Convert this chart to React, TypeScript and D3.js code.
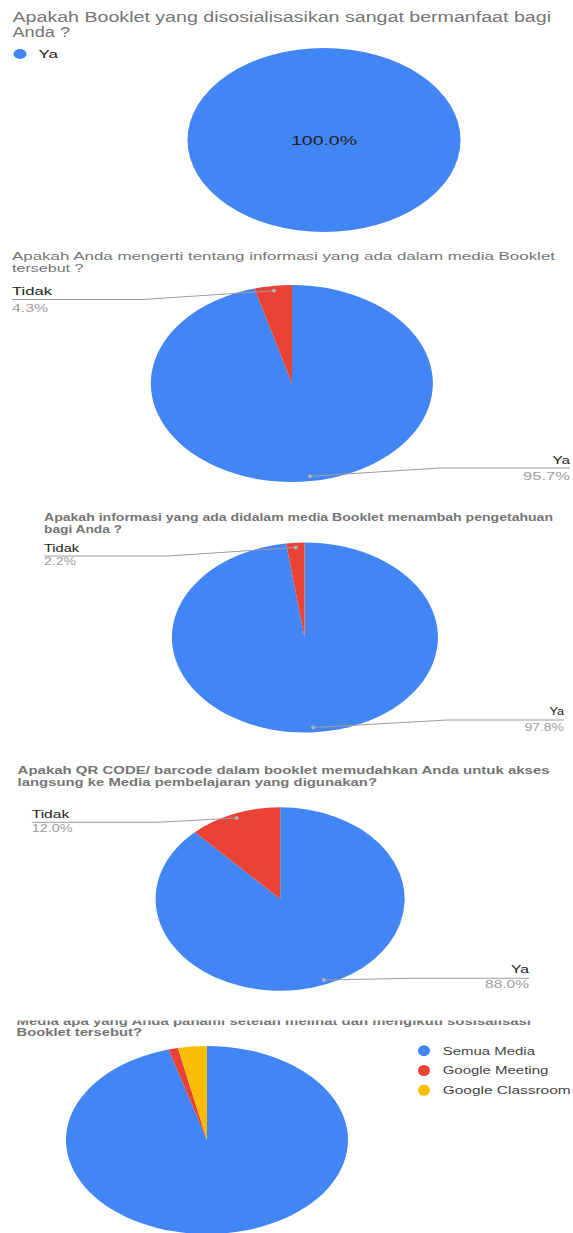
import * as d3 from "d3"

// survey answers
const q1Labels = ["Ya"]
const q1Values = [100]
const q1Title = ["Apakah Booklet yang disosialisasikan sangat bermanfaat bagi", "Anda ?"]

const q2Labels = ["Ya", "Tidak"]
const q2Values = [95.7, 4.3]
const q2Title = ["Apakah Anda mengerti tentang informasi yang ada dalam media Booklet", "tersebut ?"]

const q3Labels = ["Ya", "Tidak"]
const q3Values = [97.8, 2.2]
const q3Title = ["Apakah informasi yang ada didalam media Booklet menambah pengetahuan", "bagi Anda ?"]

const q4Labels = ["Ya", "Tidak"]
const q4Values = [88.0, 12.0]
const q4Title = [
  "Apakah QR CODE/ barcode dalam booklet memudahkan Anda untuk akses",
  "langsung ke Media pembelajaran yang digunakan?",
]

const q5Labels = ["Semua Media", "Google Meeting", "Google Classroom"]
const q5Values = [95.6, 1.1, 3.3]
const q5Title = [
  "Media apa yang Anda pahami setelah melihat dan mengikuti sosisalisasi",
  "Booklet tersebut?",
]

const colors = ["#4285f4", "#ea4335", "#fbbc04"]
const FONT = "'Liberation Sans', Arial, sans-serif"
const W = 573
const H = 1233

type LeaderLayout = { lineY: number; elbowX: number; endX: number; side: "left" | "right"; nameW: number; pctW: number; nameY: number; pctY: number }

type ChartLayout = {
  labels: string[]
  values: number[]
  title: string[]
  titleX: number
  titleY: number[]
  titleW: number[]
  titleSize: number
  titleBold: boolean
  cx: number
  cy: number
  rx: number
  ry: number
  leaders?: Record<string, LeaderLayout>
  clipTop?: number
}

const charts: ChartLayout[] = [
  {
    labels: q1Labels, values: q1Values, title: q1Title,
    titleX: 12.5, titleY: [22, 37], titleW: [538.5, 57.5], titleSize: 14, titleBold: false,
    cx: 324, cy: 140, rx: 136.5, ry: 92,
  },
  {
    labels: q2Labels, values: q2Values, title: q2Title,
    titleX: 12, titleY: [260, 272], titleW: [543, 71.5], titleSize: 11.5, titleBold: false,
    cx: 292, cy: 383.5, rx: 141, ry: 98.5,
    leaders: {
      Tidak: { lineY: 299.5, elbowX: 143, endX: 12, side: "left", nameW: 40, pctW: 36, nameY: 295, pctY: 311.5 },
      Ya: { lineY: 468, elbowX: 440, endX: 570, side: "right", nameW: 17.5, pctW: 47, nameY: 464, pctY: 480 },
    },
  },
  {
    labels: q3Labels, values: q3Values, title: q3Title,
    titleX: 44, titleY: [520.7, 533], titleW: [509, 78], titleSize: 10, titleBold: true,
    cx: 304.5, cy: 637.5, rx: 133, ry: 95,
    leaders: {
      Tidak: { lineY: 556, elbowX: 168.5, endX: 44, side: "left", nameW: 35, pctW: 32, nameY: 551.7, pctY: 565 },
      Ya: { lineY: 720, elbowX: 447, endX: 564, side: "right", nameW: 14.5, pctW: 39.5, nameY: 715, pctY: 730.7 },
    },
  },
  {
    labels: q4Labels, values: q4Values, title: q4Title,
    titleX: 17.6, titleY: [774, 786], titleW: [532, 359.4], titleSize: 11, titleBold: true,
    cx: 280.2, cy: 899, rx: 124.5, ry: 91.7,
    leaders: {
      Tidak: { lineY: 822.3, elbowX: 157, endX: 31.7, side: "left", nameW: 37.6, pctW: 41, nameY: 818.3, pctY: 832.3 },
      Ya: { lineY: 978.3, elbowX: 412, endX: 529, side: "right", nameW: 18, pctW: 44, nameY: 972.7, pctY: 987.7 },
    },
  },
  {
    labels: q5Labels, values: q5Values, title: q5Title,
    titleX: 16.5, titleY: [1025, 1036], titleW: [514.5, 125.5], titleSize: 11, titleBold: true,
    cx: 207, cy: 1140, rx: 141, ry: 94, clipTop: 1020.5,
  },
]

const pie = d3.pie<number>().sort(null).value(d => d)
const sliceArc = d3.arc<d3.PieArcDatum<number>>().innerRadius(0).outerRadius(1)
const dotArc = d3.arc<d3.PieArcDatum<number>>().innerRadius(0.95).outerRadius(0.95)
const pct = d3.format(".1%")

function PieChart({ c, idx }: { c: ChartLayout; idx: number }) {
  const slices = pie(c.values)
  const total = d3.sum(c.values)
  const clipId = `clip-title-${idx}`
  return (
    <g>
      {c.clipTop !== undefined && (
        <defs>
          <clipPath id={clipId}>
            <rect x={0} y={c.clipTop} width={W} height={H - c.clipTop} />
          </clipPath>
        </defs>
      )}
      <g clipPath={c.clipTop !== undefined ? `url(#${clipId})` : undefined}>
        {c.title.map((line, i) => (
          <text
            key={i}
            x={c.titleX}
            y={c.titleY[i]}
            fontSize={c.titleSize}
            fontWeight={c.titleBold ? "bold" : "normal"}
            fill="#757575"
            textLength={c.titleW[i]}
            lengthAdjust="spacingAndGlyphs"
          >
            {line}
          </text>
        ))}
      </g>
      <g transform={`translate(${c.cx},${c.cy}) scale(${c.rx},${c.ry})`}>
        {slices.map((s, i) => (
          <path key={i} d={sliceArc(s) ?? ""} fill={colors[i]} />
        ))}
      </g>
      {c.leaders &&
        slices.map((s, i) => {
          const lab = c.labels[i]
          const L = c.leaders![lab]
          if (!L) return null
          const [ux, uy] = dotArc.centroid(s)
          const dx = c.cx + ux * c.rx
          const dy = c.cy + uy * c.ry
          const pts: [number, number][] =
            L.side === "left"
              ? [[L.endX, L.lineY], [L.elbowX, L.lineY], [dx, dy]]
              : [[dx, dy], [L.elbowX, L.lineY], [L.endX, L.lineY]]
          const nameX = L.side === "left" ? L.endX : L.endX - L.nameW
          const pctX = L.side === "left" ? L.endX : L.endX - L.pctW
          return (
            <g key={`l${i}`}>
              <path d={d3.line()(pts) ?? ""} fill="none" stroke="#9e9e9e" strokeWidth={1} />
              <circle cx={dx} cy={dy} r={2} fill="#b0b0b0" />
              <text x={nameX} y={L.nameY} fontSize={10.5} fill="#222" textLength={L.nameW} lengthAdjust="spacingAndGlyphs">
                {lab}
              </text>
              <text x={pctX} y={L.pctY} fontSize={10.5} fill="#9e9e9e" textLength={L.pctW} lengthAdjust="spacingAndGlyphs">
                {pct(s.value / total)}
              </text>
            </g>
          )
        })}
    </g>
  )
}

export default function App() {
  const c1 = charts[0]
  const legend5 = [1050.7, 1070.5, 1090.3]
  const legend5W = [92.3, 105.6, 128]
  return (
    <svg
      width={W}
      height={H}
      style={{ position: "absolute", left: 0, top: 0, background: "#fff" }}
      fontFamily={FONT}
    >
      <rect width={W} height={H} fill="#fff" />
      {charts.map((c, i) => (
        <PieChart key={i} c={c} idx={i} />
      ))}

      {/* chart 1: legend + inner label */}
      <ellipse cx={20} cy={54} rx={6.5} ry={5} fill={colors[0]} />
      <text x={38.5} y={57.5} fontSize={11} fill="#222" textLength={19.5} lengthAdjust="spacingAndGlyphs">
        {q1Labels[0]}
      </text>
      <text x={c1.cx - 33} y={c1.cy + 4.5} fontSize={12.5} fill="#222" textLength={66} lengthAdjust="spacingAndGlyphs">
        {pct(q1Values[0] / d3.sum(q1Values))}
      </text>

      {/* chart 5 legend */}
      {q5Labels.map((lab, i) => (
        <g key={lab}>
          <ellipse cx={424} cy={legend5[i]} rx={6} ry={5.5} fill={colors[i]} />
          <text x={442.7} y={legend5[i] + 3.8} fontSize={10.5} fill="#444" textLength={legend5W[i]} lengthAdjust="spacingAndGlyphs">
            {lab}
          </text>
        </g>
      ))}
    </svg>
  )
}
